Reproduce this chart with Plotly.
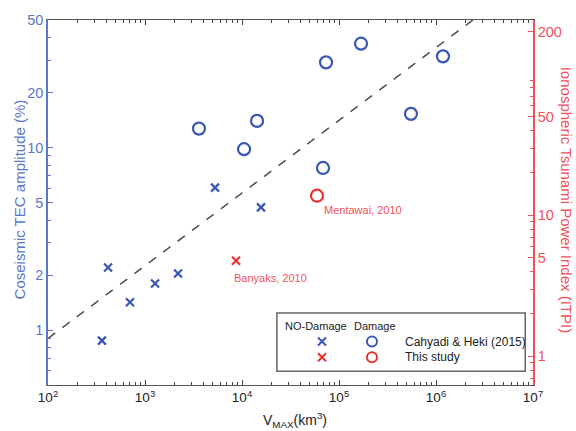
import plotly.graph_objects as go

# ---- data ----
nodmg_ch_x = [360, 416, 700, 1270, 2190, 5270, 15700]
nodmg_ch_y = [0.875, 2.20, 1.42, 1.80, 2.04, 6.03, 4.70]

dmg_ch_x = [3600, 10500, 14300, 73500, 168700, 1.18e6, 552000, 68400]
dmg_ch_y = [12.7, 9.8, 14.0, 29.3, 37.1, 31.6, 15.3, 7.73]

nodmg_ts_x = [8670]
nodmg_ts_y = [2.40]
nodmg_ts_label = ["Banyaks, 2010"]

dmg_ts_x = [59300]
dmg_ts_y = [5.45]
dmg_ts_label = ["Mentawai, 2010"]

fit_x = [1e2, 2.4e6]
fit_y = [0.9, 50]

x_ticks = [1e2, 1e3, 1e4, 1e5, 1e6, 1e7]
x_ticktext = ["10<sup>2</sup>", "10<sup>3</sup>", "10<sup>4</sup>", "10<sup>5</sup>", "10<sup>6</sup>", "10<sup>7</sup>"]
yl_ticks = [1, 2, 5, 10, 20, 50]
yr_ticks = [1, 5, 10, 50, 200]

BLUE = "#3a56b4"
BLUE_T = "#5a78cc"
RED = "#ec2f2f"
RED_T = "#f2505a"
FONT = "Liberation Sans, Arial, sans-serif"

def minor_log(lo, hi):
    out = []
    for e in range(lo, hi):
        for m in range(2, 10):
            out.append(m * 10.0 ** e)
    return out

fig = go.Figure()

fig.add_trace(go.Scatter(x=fit_x, y=fit_y, mode="lines",
                         line=dict(color="#555555", width=1.6, dash="dash"),
                         hoverinfo="skip", showlegend=False))
fig.add_trace(go.Scatter(x=nodmg_ch_x, y=nodmg_ch_y, mode="markers",
                         marker=dict(symbol="x-thin", size=8, line=dict(color=BLUE, width=2.2)),
                         showlegend=False))
fig.add_trace(go.Scatter(x=dmg_ch_x, y=dmg_ch_y, mode="markers",
                         marker=dict(symbol="circle-open", size=12, color=BLUE, line=dict(color=BLUE, width=2.2)),
                         showlegend=False))
fig.add_trace(go.Scatter(x=nodmg_ts_x, y=nodmg_ts_y, mode="markers",
                         marker=dict(symbol="x-thin", size=8, line=dict(color=RED, width=2.2)),
                         showlegend=False))
fig.add_trace(go.Scatter(x=dmg_ts_x, y=dmg_ts_y, mode="markers",
                         marker=dict(symbol="circle-open", size=12, color=RED, line=dict(color=RED, width=2.2)),
                         showlegend=False))

# right axis (invisible anchor trace)
fig.add_trace(go.Scatter(x=[1e3], y=[1], yaxis="y2", mode="markers",
                         marker=dict(opacity=0), hoverinfo="skip", showlegend=False))

# legend glyphs on an overlay unit axis pair
leg_sym = ["x-thin", "circle-open", "x-thin", "circle-open"]
leg_col = [BLUE, BLUE, RED, RED]
leg_x = [0.565, 0.668, 0.565, 0.668]
leg_y = [0.119, 0.119, 0.076, 0.076]
for s, c, lx, ly in zip(leg_sym, leg_col, leg_x, leg_y):
    fig.add_trace(go.Scatter(x=[lx], y=[ly], xaxis="x2", yaxis="y3", mode="markers",
                             marker=dict(symbol=s, size=8 if s == "x-thin" else 10, color=c,
                                         line=dict(color=c, width=2)),
                             hoverinfo="skip", showlegend=False))

fig.update_layout(
    width=576, height=431,
    margin=dict(l=48, r=43, t=15, b=46),
    paper_bgcolor="white", plot_bgcolor="white",
    font=dict(family=FONT, size=12, color="#222"),
    xaxis=dict(type="log", range=[2, 7], tickvals=x_ticks, ticktext=x_ticktext,
               ticks="inside", ticklen=5, tickcolor="#444", showgrid=False, zeroline=False,
               showline=True, linecolor="#555", linewidth=1.2, mirror="ticks",
               tickfont=dict(size=13.5, color="#222"),
               minor=dict(tickmode="array", tickvals=minor_log(2, 7), ticks="inside",
                          ticklen=3, tickcolor="#444", showgrid=False)),
    yaxis=dict(type="log", range=[-0.30103, 1.69897], tickvals=yl_ticks,
               ticktext=[str(v) for v in yl_ticks],
               ticks="inside", ticklen=5, tickcolor=BLUE_T, showgrid=False, zeroline=False,
               showline=True, linecolor=BLUE_T, linewidth=1.5,
               tickfont=dict(size=14.5, color=BLUE_T),
               minor=dict(tickmode="array", tickvals=[0.6, 0.7, 0.8, 0.9, 3, 4, 6, 7, 8, 9, 30, 40],
                          ticks="inside", ticklen=3, tickcolor=BLUE_T, showgrid=False)),
    yaxis2=dict(type="log", overlaying="y", side="right", range=[-0.203, 2.385],
                tickvals=yr_ticks, ticktext=[str(v) for v in yr_ticks],
                ticks="inside", ticklen=5, tickcolor=RED_T, showgrid=False, zeroline=False,
                showline=True, linecolor=RED_T, linewidth=1.5,
                tickfont=dict(size=14.5, color=RED_T),
                minor=dict(tickmode="array",
                           tickvals=[0.7, 0.8, 0.9, 2, 3, 4, 6, 7, 8, 9, 20, 30, 40, 60, 70, 80, 90],
                           ticks="inside", ticklen=3, tickcolor=RED_T, showgrid=False)),
    xaxis2=dict(overlaying="x", range=[0, 1], visible=False),
    yaxis3=dict(overlaying="y", range=[0, 1], visible=False, anchor="x2"),
)

# axis titles
fig.add_annotation(text="V<sub>MAX</sub>(km<sup>3</sup>)", xref="paper", yref="paper",
                   x=0.509, y=-0.095, xanchor="center", yanchor="middle", showarrow=False,
                   font=dict(size=14, color="#222"))
fig.add_annotation(text="Coseismic TEC amplitude (%)", xref="paper", yref="paper",
                   x=-0.058, xanchor="center", y=0.508, yanchor="middle", textangle=-90,
                   showarrow=False, font=dict(size=15, color=BLUE_T))
fig.add_annotation(text="Ionospheric Tsunami Power Index (ITPI)", xref="paper", yref="paper",
                   x=1.068, xanchor="center", y=0.505, yanchor="middle", textangle=90,
                   showarrow=False, font=dict(size=15, color=RED_T))

# point labels
fig.add_annotation(text=dmg_ts_label[0], x=4.773, y=0.737, xref="x", yref="y",
                   xshift=5, yshift=-14, xanchor="left", yanchor="middle", showarrow=False,
                   font=dict(size=11, color=RED_T))
fig.add_annotation(text=nodmg_ts_label[0], x=3.938, y=0.380, xref="x", yref="y",
                   xshift=-4, yshift=-17, xanchor="left", yanchor="middle", showarrow=False,
                   font=dict(size=11, color=RED_T))

# legend box
fig.add_shape(type="rect", xref="paper", yref="paper", x0=0.472, x1=0.984, y0=0.038, y1=0.197,
              line=dict(color="#666", width=1.5), fillcolor="white", layer="below")
fig.add_annotation(text="NO-Damage", xref="paper", yref="paper", x=0.4845, y=0.162,
                   xanchor="left", yanchor="middle", showarrow=False, font=dict(size=11, color="#222"))
fig.add_annotation(text="Damage", xref="paper", yref="paper", x=0.627, y=0.162,
                   xanchor="left", yanchor="middle", showarrow=False, font=dict(size=11, color="#222"))
fig.add_annotation(text="Cahyadi &amp; Heki (2015)", xref="paper", yref="paper", x=0.732, y=0.119,
                   xanchor="left", yanchor="middle", showarrow=False, font=dict(size=12, color="#222"))
fig.add_annotation(text="This study", xref="paper", yref="paper", x=0.732, y=0.076,
                   xanchor="left", yanchor="middle", showarrow=False, font=dict(size=12, color="#222"))

fig.write_html("out.html", config={"displayModeBar": False},
               post_script="document.body.style.margin='0';")
